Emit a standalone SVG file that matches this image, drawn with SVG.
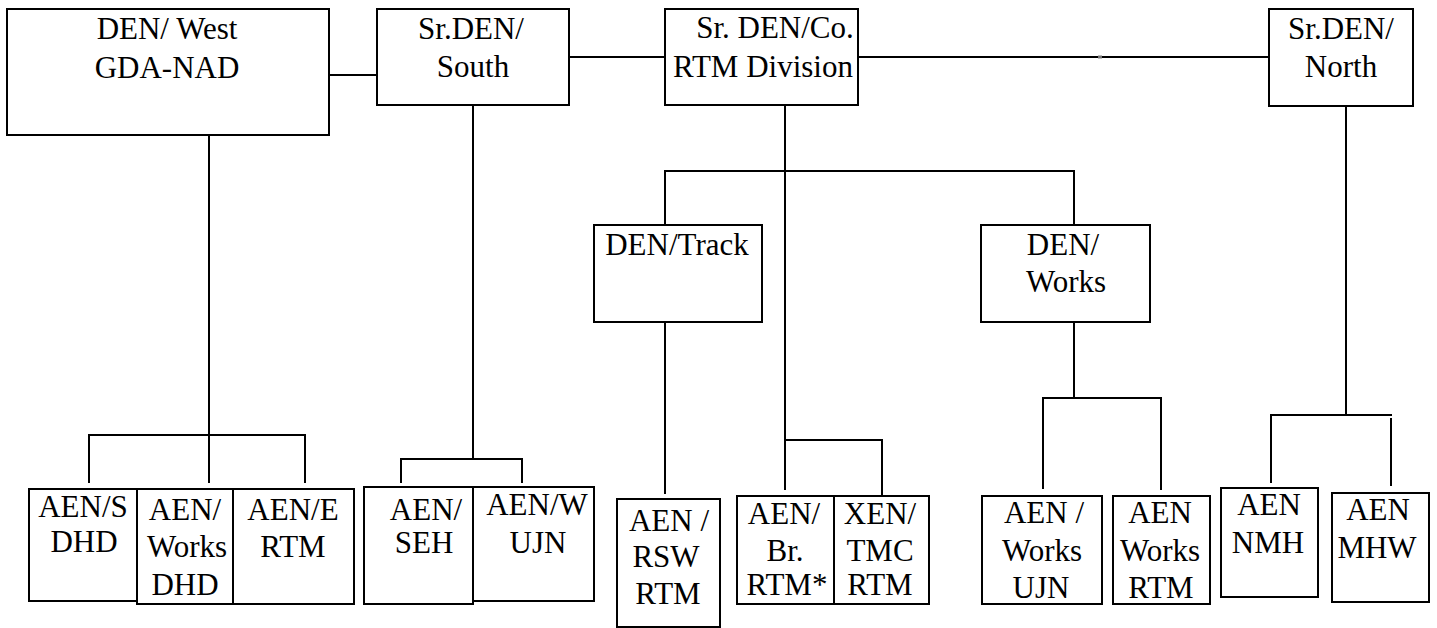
<svg xmlns="http://www.w3.org/2000/svg" width="1437" height="628" viewBox="0 0 1437 628">
<style>
.box{fill:#fff;stroke:#000;stroke-width:2}
.ln{fill:none;stroke:#000;stroke-width:2}
.t{font-family:'Liberation Serif','Times New Roman',Times,Tinos,'Nimbus Roman','Nimbus Roman No9 L',FreeSerif,'Noto Serif','DejaVu Serif','Noto Serif CJK SC',serif;font-size:31px;fill:#000;text-anchor:middle}
</style>
<rect width="1437" height="628" fill="#fff"/>
<g id="connectors" class="ln">
<line x1="329" y1="75" x2="377" y2="75"/>
<line x1="569" y1="57" x2="665" y2="57"/>
<line x1="858" y1="57" x2="1269" y2="57"/>
<line x1="1098" y1="57" x2="1102" y2="57" stroke="#777" stroke-width="3"/>
<line x1="209" y1="135" x2="209" y2="483"/>
<polyline points="89,483 89,435 305,435 305,483"/>
<line x1="473" y1="105" x2="473" y2="460"/>
<polyline points="401,483 401,459 522,459 522,483"/>
<line x1="785" y1="105" x2="785" y2="490"/>
<polyline points="665,225 665,171 1074,171 1074,225"/>
<polyline points="785,440 882,440 882,495"/>
<line x1="665" y1="322" x2="665" y2="494"/>
<line x1="1074" y1="322" x2="1074" y2="398"/>
<polyline points="1043,489 1043,398 1161,398 1161,490"/>
<line x1="1346" y1="106" x2="1346" y2="415"/>
<polyline points="1271,483 1271,415 1392,415"/>
<line x1="1391" y1="418" x2="1391" y2="486"/>
</g>
<g class="t">
<g id="den-west"><rect class="box" x="7" y="9" width="322" height="126"/><text x="167" y="39">DEN/ West</text><text x="167" y="78">GDA-NAD</text></g>
<g id="srden-south"><rect class="box" x="377" y="9" width="192" height="96"/><text x="471" y="39">Sr.DEN/</text><text x="473" y="77">South</text></g>
<g id="srden-co"><rect class="box" x="665" y="9" width="193" height="96"/><text x="775" y="38">Sr. DEN/Co.</text><text x="763" y="77">RTM Division</text></g>
<g id="srden-north"><rect class="box" x="1269" y="9" width="144" height="97"/><text x="1341" y="39">Sr.DEN/</text><text x="1341" y="77">North</text></g>
<g id="den-track"><rect class="box" x="594" y="225" width="168" height="97"/><text x="677" y="255">DEN/Track</text></g>
<g id="den-works"><rect class="box" x="981" y="225" width="169" height="97"/><text x="1063" y="255">DEN/</text><text x="1066" y="292">Works</text></g>
<g id="aen-s"><rect class="box" x="29" y="489" width="108" height="112"/><text x="83" y="517">AEN/S</text><text x="84" y="552">DHD</text></g>
<g id="aen-works-dhd"><rect class="box" x="137" y="489" width="96" height="115"/><text x="185" y="520">AEN/</text><text x="187" y="557">Works</text><text x="185" y="595">DHD</text></g>
<g id="aen-e"><rect class="box" x="233" y="489" width="121" height="115"/><text x="293" y="520">AEN/E</text><text x="293" y="557">RTM</text></g>
<g id="aen-seh"><rect class="box" x="364" y="487" width="109" height="117"/><text x="426" y="520">AEN/</text><text x="424" y="553">SEH</text></g>
<g id="aen-w"><rect class="box" x="473" y="487" width="121" height="114"/><text x="537" y="515">AEN/W</text><text x="538" y="553">UJN</text></g>
<g id="aen-rsw"><rect class="box" x="617" y="499" width="103" height="128"/><text x="669" y="531">AEN /</text><text x="666" y="567">RSW</text><text x="668" y="604">RTM</text></g>
<g id="aen-br"><rect class="box" x="737" y="496" width="97" height="108"/><text x="784" y="524">AEN/</text><text x="785" y="561">Br.</text><text x="787" y="595">RTM*</text></g>
<g id="xen-tmc"><rect class="box" x="834" y="496" width="95" height="108"/><text x="880" y="524">XEN/</text><text x="880" y="561">TMC</text><text x="880" y="595">RTM</text></g>
<g id="aen-works-ujn"><rect class="box" x="982" y="496" width="120" height="108"/><text x="1044" y="523">AEN /</text><text x="1042" y="561">Works</text><text x="1041" y="598">UJN</text></g>
<g id="aen-works-rtm"><rect class="box" x="1113" y="496" width="97" height="108"/><text x="1160" y="523">AEN</text><text x="1160" y="561">Works</text><text x="1161" y="598">RTM</text></g>
<g id="aen-nmh"><rect class="box" x="1221" y="488" width="97" height="109"/><text x="1269" y="515">AEN</text><text x="1268" y="553">NMH</text></g>
<g id="aen-mhw"><rect class="box" x="1332" y="493" width="97" height="109"/><text x="1378" y="520">AEN</text><text x="1377" y="558">MHW</text></g>
</g>
</svg>
